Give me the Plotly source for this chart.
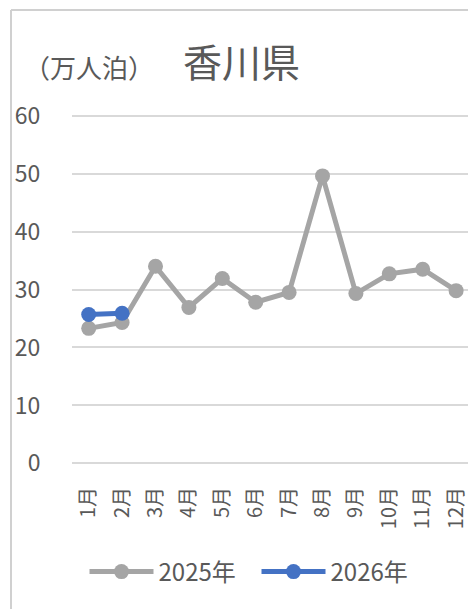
import plotly.graph_objects as go

months = ["1月", "2月", "3月", "4月", "5月", "6月", "7月", "8月", "9月", "10月", "11月", "12月"]
y2025 = [23.3, 24.3, 34.0, 26.9, 31.9, 27.8, 29.5, 49.6, 29.3, 32.7, 33.5, 29.8]
y2026 = [25.7, 25.9]
yticks = [0, 10, 20, 30, 40, 50, 60]

W, H = 468, 609
L, R = 72, 0
T, B = 104, 134
pw = W - L - R
ph = H - T - B

def px(x):
    return (x - L) / pw

def py(y):
    return (H - B - y) / ph

FONT = "Noto Sans CJK JP"
TXT = "#595959"

fig = go.Figure()
fig.add_trace(go.Scatter(
    x=list(range(len(months))), y=y2025, name="2025年", mode="lines+markers",
    line=dict(color="#A5A5A5", width=5), marker=dict(size=15, color="#A5A5A5"),
))
fig.add_trace(go.Scatter(
    x=list(range(len(y2026))), y=y2026, name="2026年", mode="lines+markers",
    line=dict(color="#4472C4", width=5), marker=dict(size=15, color="#4472C4"),
))

fig.update_layout(
    width=W, height=H,
    margin=dict(l=L, r=R, t=T, b=B, pad=0),
    paper_bgcolor="white", plot_bgcolor="white",
    font=dict(family=FONT, color=TXT, size=18),
    xaxis=dict(
        tickmode="array", tickvals=list(range(len(months))), ticktext=months,
        range=[-0.5, -0.5 + pw / 33.4], tickangle=-90, showgrid=False, zeroline=False,
        showline=False, ticks="outside", ticklen=3, tickcolor="rgba(0,0,0,0)",
        tickfont=dict(size=20, color=TXT, family=FONT), ticklabeloverflow="allow",
    ),
    yaxis=dict(
        tickmode="array", tickvals=yticks, range=[-2, 62],
        showgrid=True, gridcolor="#D9D9D9", gridwidth=1.5, zeroline=False,
        showline=False, ticks="outside", ticklen=26, tickcolor="rgba(0,0,0,0)",
        tickfont=dict(size=23, color=TXT, family=FONT),
    ),
    showlegend=True,
    legend=dict(
        orientation="h", x=px(256.5), y=py(572), xanchor="center", yanchor="middle",
        font=dict(size=24, color=TXT, family=FONT), itemwidth=64,
        entrywidth=93, entrywidthmode="pixels",
        bgcolor="rgba(0,0,0,0)",
    ),
    shapes=[
        dict(type="line", xref="paper", yref="paper", x0=px(11), x1=px(470),
             y0=py(10), y1=py(10), line=dict(color="#D0D0D0", width=2), layer="below"),
        dict(type="line", xref="paper", yref="paper", x0=px(11), x1=px(11),
             y0=py(10), y1=py(612), line=dict(color="#D0D0D0", width=2), layer="below"),
    ],
    annotations=[
        dict(text="香川県", xref="paper", yref="paper", x=px(241), y=py(60),
             xanchor="center", yanchor="middle", showarrow=False,
             font=dict(size=39, color=TXT, family=FONT)),
        dict(text="（万人泊）", xref="paper", yref="paper", x=px(89), y=py(67),
             xanchor="center", yanchor="middle", showarrow=False,
             font=dict(size=26, color=TXT, family=FONT)),
    ],
)

fig.write_html("out.html", config={"displayModeBar": False},
               post_script="document.body.style.margin='0';document.body.style.overflow='hidden';")
